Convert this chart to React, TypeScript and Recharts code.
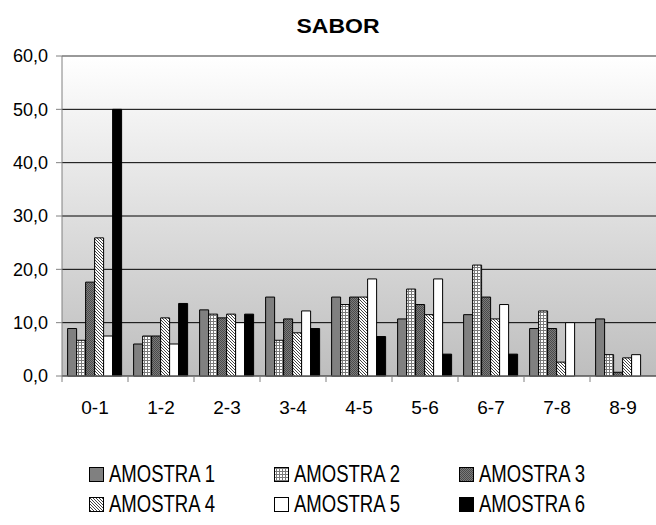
import React from 'react';
import { BarChart, Bar, XAxis, YAxis, CartesianGrid, ReferenceLine } from 'recharts';

// categorias e valores (%)
const categories = ['0-1', '1-2', '2-3', '3-4', '4-5', '5-6', '6-7', '7-8', '8-9'];
const amostra1 = [8.9, 6.0, 12.4, 14.8, 14.8, 10.7, 11.5, 8.9, 10.7];
const amostra2 = [6.7, 7.5, 11.6, 6.7, 13.4, 16.3, 20.8, 12.2, 4.0];
const amostra3 = [17.6, 7.5, 10.9, 10.7, 14.8, 13.4, 14.8, 8.9, 0.7];
const amostra4 = [25.9, 10.9, 11.6, 8.1, 14.8, 11.5, 10.7, 2.6, 3.4];
const amostra5 = [7.5, 6.0, 10.0, 12.2, 18.2, 18.2, 13.4, 10.0, 4.0];
const amostra6 = [50.0, 13.6, 11.6, 8.9, 7.4, 4.1, 4.1, 0, 0];
const yTicks = [0, 10, 20, 30, 40, 50, 60];

const seriesNames = ['AMOSTRA 1', 'AMOSTRA 2', 'AMOSTRA 3', 'AMOSTRA 4', 'AMOSTRA 5', 'AMOSTRA 6'];
const seriesValues = [amostra1, amostra2, amostra3, amostra4, amostra5, amostra6];
const seriesFills = ['#808080', 'url(#pGrid)', 'url(#pDots)', 'url(#pDiag)', '#ffffff', '#000000'];

const data = categories.map((c, i) => {
  const row: Record<string, string | number> = { name: c };
  seriesNames.forEach((s, k) => {
    row[s] = seriesValues[k][i];
  });
  return row;
});

const FONT = '"Liberation Sans", Arial, sans-serif';

const fmt = (v: number) => v.toFixed(1).replace('.', ',');

const CatTick = (props: any) => {
  const { x, y, payload, width, visibleTicksCount } = props;
  const half = payload && payload.offset ? payload.offset : width / visibleTicksCount / 2;
  return (
    <g>
      <line x1={x - half} x2={x - half} y1={y} y2={y + 6} stroke="#808080" />
      <text x={x} y={y + 38} textAnchor="middle" fontSize={19} fontFamily={FONT} fill="#000">
        {payload.value}
      </text>
    </g>
  );
};

const legendCols = [89, 274, 459];
const legendRows = [467, 497];

const App: React.FC = () => {
  return (
    <div style={{ position: 'absolute', left: 0, top: 0, width: 656, height: 525, background: '#fff' }}>
      <svg width={0} height={0} style={{ position: 'absolute' }}>
        <defs>
          <linearGradient id="bg" x1="0" y1="0" x2="0" y2="1">
            <stop offset="0%" stopColor="#ffffff" />
            <stop offset="100%" stopColor="#bebebe" />
          </linearGradient>
          <pattern id="pGrid" width={3} height={3} patternUnits="userSpaceOnUse">
            <rect width={3} height={3} fill="#ffffff" />
            <path d="M0 0.5H3M0.5 0V3" stroke="#7a7a7a" strokeWidth={1} />
          </pattern>
          <pattern id="pDots" width={2} height={2} patternUnits="userSpaceOnUse">
            <rect width={2} height={2} fill="#7c7c7c" />
            <rect x={0} y={0} width={1} height={1} fill="#4a4a4a" />
            <rect x={1} y={1} width={1} height={1} fill="#4a4a4a" />
          </pattern>
          <pattern id="pDiag" width={3} height={3} patternUnits="userSpaceOnUse">
            <rect width={3} height={3} fill="#ffffff" />
            <path d="M-1 2L1 4M0 0L3 3M2 -1L4 1" stroke="#444" strokeWidth={1} />
          </pattern>
        </defs>
      </svg>

      <BarChart
        width={656}
        height={525}
        data={data}
        margin={{ top: 56, right: 0, left: 0, bottom: 109 }}
        barCategoryGap="8.5%"
        barGap={0}
      >
        <CartesianGrid vertical={false} stroke="#000" fill="url(#bg)" fillOpacity={1} />
        <XAxis
          dataKey="name"
          height={40}
          tickSize={0}
          tickMargin={0}
          tickLine={false}
          axisLine={{ stroke: '#808080' }}
          tick={<CatTick />}
          interval={0}
        />
        <YAxis
          width={62}
          domain={[0, 60]}
          ticks={yTicks}
          tickFormatter={fmt}
          tickSize={6}
          tickMargin={8}
          axisLine={{ stroke: '#808080' }}
          tickLine={{ stroke: '#808080' }}
          tick={{ fontSize: 18, fontFamily: FONT, fill: '#000' }}
        />
        <ReferenceLine y={60} stroke="#999" strokeWidth={2} />
        {seriesNames.map((s, k) => (
          <Bar key={s} dataKey={s} fill={seriesFills[k]} stroke="#000" strokeWidth={1} isAnimationActive={false} />
        ))}
      </BarChart>

      <svg width={656} height={525} style={{ position: 'absolute', left: 0, top: 0, pointerEvents: 'none' }}>
        <text x={338} y={33} textAnchor="middle" fontSize={21} fontWeight="bold" fontFamily={FONT} textLength={83} lengthAdjust="spacingAndGlyphs">
          SABOR
        </text>
        {seriesNames.map((s, k) => {
          const cx = legendCols[k % 3];
          const cy = legendRows[Math.floor(k / 3)];
          return (
            <g key={s}>
              <rect x={cx + 0.5} y={cy + 0.5} width={14} height={14} fill={seriesFills[k]} stroke="#000" />
              <text x={cx + 20} y={cy + 15} fontSize={24} fontFamily={FONT} textLength={106} lengthAdjust="spacingAndGlyphs">
                {s}
              </text>
            </g>
          );
        })}
      </svg>
    </div>
  );
};

export default App;
